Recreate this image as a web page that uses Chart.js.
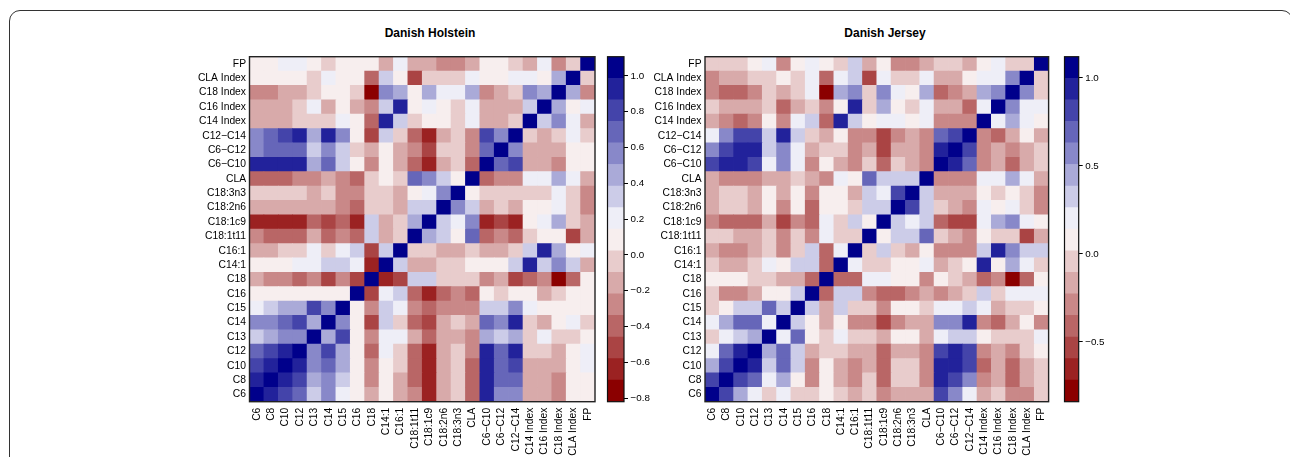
<!DOCTYPE html>
<html><head><meta charset="utf-8">
<script src="https://cdn.jsdelivr.net/npm/chart.js@4.4.1/dist/chart.umd.min.js"></script>
<style>
html,body{margin:0;padding:0;background:#fff;width:1290px;height:457px;overflow:hidden;position:relative;}
#frame{position:absolute;left:9px;top:10px;width:1284px;height:520px;border:1.5px solid #333;border-radius:11px;box-sizing:border-box;}
canvas{position:absolute;top:0;}
.title{position:absolute;top:25.5px;line-height:14px;font:bold 12px "Liberation Sans",Arial,sans-serif;color:#000;transform:translateX(-50%);white-space:nowrap;}
</style></head><body>
<div id="frame"></div>
<div class="title" style="left:430px">Danish Holstein</div>
<div class="title" style="left:885px">Danish Jersey</div>
<canvas id="h1" width="470" height="457" style="left:140px"></canvas>
<canvas id="c1" width="60" height="457" style="left:600px"></canvas>
<canvas id="h2" width="460" height="457" style="left:600px"></canvas>
<canvas id="c2" width="62" height="457" style="left:1058px"></canvas>
<script>
const variables = ["C6","C8","C10","C12","C13","C14","C15","C16","C18","C14:1","C16:1","C18:1t11","C18:1c9","C18:2n6","C18:3n3","CLA","C6\u2212C10","C6\u2212C12","C12\u2212C14","C14 Index","C16 Index","C18 Index","CLA Index","FP"];

// lower triangles of the correlation matrices (row i: correlations with variables 0..i-1)
const holsteinLower = [
[],
[0.93],
[0.81,0.93],
[0.68,0.81,0.93],
[0.32,0.44,0.56,0.56],
[0.56,0.56,0.68,0.81,0.44],
[0.20,0.32,0.44,0.44,0.81,0.56],
[0.08,0.08,0.08,0.08,0.08,0.08,0.08],
[-0.16,-0.28,-0.28,-0.40,-0.28,-0.52,-0.28,-0.52],
[0.08,0.08,0.08,0.20,0.20,0.32,0.32,0.20,-0.64],
[-0.16,-0.16,-0.04,-0.04,0.20,-0.04,0.20,0.32,-0.52,0.32],
[-0.28,-0.40,-0.40,-0.40,-0.16,-0.40,-0.28,-0.40,0.32,-0.16,-0.04],
[-0.64,-0.64,-0.64,-0.64,-0.40,-0.52,-0.40,-0.64,0.32,-0.16,-0.04,0.44],
[-0.16,-0.16,-0.16,-0.16,-0.16,-0.16,-0.28,-0.40,-0.04,-0.04,-0.16,0.32,0.32],
[-0.04,-0.04,-0.04,-0.04,-0.16,-0.04,-0.28,-0.28,-0.04,-0.04,-0.16,0.08,0.20,0.56],
[-0.40,-0.40,-0.40,-0.28,-0.28,-0.16,-0.28,-0.40,-0.04,0.08,-0.04,0.68,0.56,0.32,0.08],
[0.93,0.93,0.93,0.93,0.44,0.68,0.32,0.08,-0.28,0.08,-0.16,-0.40,-0.64,-0.16,-0.04,-0.40],
[0.56,0.68,0.68,0.68,0.32,0.56,0.32,-0.04,-0.16,0.08,-0.16,-0.28,-0.52,-0.04,-0.04,-0.28,0.68],
[0.56,0.68,0.81,0.93,0.44,0.93,0.56,0.08,-0.52,0.32,-0.04,-0.40,-0.64,-0.16,-0.04,-0.28,0.81,0.56],
[-0.16,-0.16,-0.16,-0.04,-0.04,-0.04,0.20,0.08,-0.40,0.93,0.32,-0.04,0.08,0.08,-0.04,0.20,-0.16,-0.16,-0.04],
[-0.16,-0.16,-0.16,-0.04,0.20,-0.16,0.08,-0.16,-0.28,0.32,0.93,0.08,0.20,0.08,-0.04,0.20,-0.16,-0.16,-0.16,0.32],
[-0.28,-0.28,-0.16,-0.16,-0.04,0.08,0.08,-0.04,-0.76,0.56,0.44,0.08,0.44,0.20,0.20,0.44,-0.28,-0.16,-0.04,0.56,0.44],
[0.08,0.08,0.08,0.08,-0.04,0.20,0.08,0.08,-0.40,0.32,0.08,-0.52,-0.04,-0.04,-0.04,0.20,0.08,0.08,0.20,0.20,0.08,0.44],
[0.08,0.08,0.20,0.20,0.08,-0.04,0.08,0.08,0.08,-0.16,0.20,-0.16,-0.16,-0.28,-0.28,-0.16,0.08,0.08,-0.04,-0.16,0.20,-0.28,-0.04]
];

const jerseyLower = [
[],
[0.81],
[0.45,0.81],
[0.20,0.69,0.94],
[-0.04,0.20,0.32,0.45],
[0.20,0.45,0.69,0.69,0.20],
[-0.04,0.08,0.32,0.32,0.69,0.32],
[-0.04,-0.29,-0.29,-0.17,0.08,0.08,0.32],
[0.08,0.08,0.08,-0.04,-0.04,-0.17,-0.17,-0.41],
[-0.04,-0.17,-0.17,-0.04,0.20,0.08,0.32,0.32,-0.41],
[-0.17,-0.29,-0.29,-0.17,-0.04,-0.29,-0.04,0.32,-0.41,0.20],
[-0.04,-0.04,-0.17,-0.17,-0.04,-0.29,-0.04,-0.29,0.20,-0.04,-0.04],
[-0.29,-0.41,-0.41,-0.41,-0.17,-0.53,-0.29,-0.41,0.20,-0.04,0.32,0.08],
[-0.17,-0.04,-0.04,-0.17,0.08,-0.29,0.08,-0.41,0.08,0.08,-0.04,0.32,0.32],
[-0.17,-0.04,-0.04,-0.17,0.08,-0.17,0.08,-0.29,0.08,0.08,-0.17,0.32,0.20,0.81],
[-0.17,-0.29,-0.29,-0.29,-0.17,-0.17,-0.04,-0.17,-0.29,0.20,0.08,0.69,0.32,0.32,0.32],
[0.81,0.94,0.94,0.81,0.20,0.57,0.20,-0.29,0.08,-0.17,-0.29,-0.04,-0.41,-0.04,-0.17,-0.29],
[0.57,0.81,0.94,0.94,0.32,0.57,0.20,-0.17,-0.04,-0.04,-0.29,-0.17,-0.53,-0.17,-0.17,-0.29,0.94],
[0.20,0.57,0.81,0.81,0.32,0.94,0.32,-0.04,-0.17,0.08,-0.29,-0.29,-0.53,-0.29,-0.17,-0.29,0.69,0.81],
[-0.17,-0.29,-0.41,-0.29,0.08,-0.29,0.20,0.32,-0.41,0.94,0.32,0.08,0.20,0.20,0.08,0.20,-0.29,-0.29,-0.29],
[-0.04,-0.17,-0.17,-0.17,-0.04,-0.41,-0.17,-0.04,-0.29,0.08,0.94,-0.04,0.45,0.08,-0.04,0.20,-0.17,-0.17,-0.41,0.20],
[-0.29,-0.41,-0.41,-0.29,-0.04,-0.17,-0.04,0.20,-0.78,0.45,0.57,-0.04,0.57,0.20,0.08,0.45,-0.41,-0.29,-0.17,0.45,0.57],
[-0.29,-0.17,-0.17,-0.04,-0.04,0.08,-0.04,0.20,-0.41,0.20,0.32,-0.53,0.20,-0.04,-0.04,0.20,-0.17,-0.17,0.08,0.20,0.20,0.57],
[-0.04,-0.04,-0.04,0.08,0.20,-0.29,0.08,0.20,0.08,-0.04,0.32,-0.17,0.08,-0.29,-0.29,-0.17,-0.04,-0.04,-0.17,0.08,0.20,-0.04,-0.04]
];

const holsteinRange = [-0.82, 1.107];
const jerseyRange = [-0.84, 1.12];
const holsteinTicks = [-0.8,-0.6,-0.4,-0.2,0.0,0.2,0.4,0.6,0.8,1.0];
const jerseyTicks = [-0.5,0.0,0.5,1.0];

const palette = ['#8B0000','#9B2222','#AA4444','#B96666','#C98888','#D8AAAA','#E8CCCC','#F7EEEE',
                 '#EEEEF7','#CCCCE8','#AAAAD8','#8888C9','#6666B9','#4444AA','#22229B','#00008B'];

Chart.defaults.font.family = '"Liberation Sans", Arial, Helvetica, sans-serif';
Chart.defaults.color = '#000';
Chart.defaults.animation = false;

function corr(lower, r, c) {
  if (r === c) return 1;
  return r > c ? lower[r][c] : lower[c][r];
}
function colorFor(v, range) {
  const w = (range[1] - range[0]) / palette.length;
  let k = Math.floor((v - range[0]) / w);
  k = Math.max(0, Math.min(palette.length - 1, k));
  return palette[k];
}
const boxPlugin = {
  id: 'box',
  afterDatasetsDraw(chart, args, opts) {
    const a = chart.chartArea, ctx = chart.ctx;
    ctx.save();
    ctx.strokeStyle = opts.color || '#222';
    ctx.lineWidth = opts.width || 1.3;
    ctx.strokeRect(a.left, a.top, a.right - a.left, a.bottom - a.top);
    ctx.restore();
  }
};

function heatmap(id, lower, range, yWidth, padRight) {
  const datasets = variables.map((rowName, r) => ({
    label: rowName,
    data: variables.map(() => [r, r + 1]),
    backgroundColor: variables.map((_, c) => colorFor(corr(lower, r, c), range)),
    borderWidth: 0,
    grouped: false,
    barPercentage: 1,
    categoryPercentage: 1
  }));
  new Chart(document.getElementById(id), {
    type: 'bar',
    data: { labels: variables, datasets },
    plugins: [boxPlugin],
    options: {
      responsive: false,
      animation: false,
      layout: { padding: { left: 0, right: padRight, top: 56.7, bottom: 0 } },
      plugins: { legend: { display: false }, tooltip: { enabled: false }, box: { color: '#222', width: 1.4 } },
      scales: {
        x: {
          type: 'category',
          afterFit: s => { s.height = 55.3; },
          ticks: { minRotation: 90, maxRotation: 90, autoSkip: false, padding: 6, font: { size: 10.3 }, color: '#000' },
          grid: { display: false, drawTicks: false },
          border: { display: false }
        },
        y: {
          type: 'linear', min: 0, max: variables.length,
          afterBuildTicks: s => { s.ticks = variables.map((_, i) => ({ value: i + 0.5 })); },
          afterFit: s => { s.width = yWidth; },
          ticks: { autoSkip: false, padding: 3.5, font: { size: 10.3 }, color: '#000',
                   callback: v => variables[Math.floor(v)] },
          grid: { display: false, drawTicks: false },
          border: { display: false }
        }
      }
    }
  });
}

function fmt(v) { return (v < 0 ? '\u2212' : '') + Math.abs(v).toFixed(1); }

function colorbar(id, range, ticks, padLeft, yWidth) {
  const w = (range[1] - range[0]) / palette.length;
  const datasets = palette.map((col, k) => ({
    data: [[range[0] + k * w, range[0] + (k + 1) * w]],
    backgroundColor: col, borderWidth: 0, grouped: false, barPercentage: 1, categoryPercentage: 1
  }));
  new Chart(document.getElementById(id), {
    type: 'bar',
    data: { labels: [''], datasets },
    plugins: [boxPlugin],
    options: {
      responsive: false,
      animation: false,
      layout: { padding: { left: padLeft, right: 0, top: 56.7, bottom: 55.3 } },
      plugins: { legend: { display: false }, tooltip: { enabled: false }, box: { color: '#111', width: 1.2 } },
      scales: {
        x: { display: false },
        y: {
          position: 'right', min: range[0], max: range[1],
          afterBuildTicks: s => { s.ticks = ticks.map(v => ({ value: v })); },
          afterFit: s => { s.width = yWidth; },
          ticks: { padding: 2.5, font: { size: 9.8 }, color: '#000', callback: v => fmt(v) },
          grid: { drawOnChartArea: false, drawTicks: true, tickLength: 4, color: '#000', lineWidth: 1 },
          border: { display: false }
        }
      }
    }
  });
}

heatmap('h1', holsteinLower, holsteinRange, 109.5, 15);
heatmap('h2', jerseyLower, jerseyRange, 105, 9);
colorbar('c1', holsteinRange, holsteinTicks, 7.5, 36);
colorbar('c2', jerseyRange, jerseyTicks, 6.5, 41.3);
</script>
</body></html>
